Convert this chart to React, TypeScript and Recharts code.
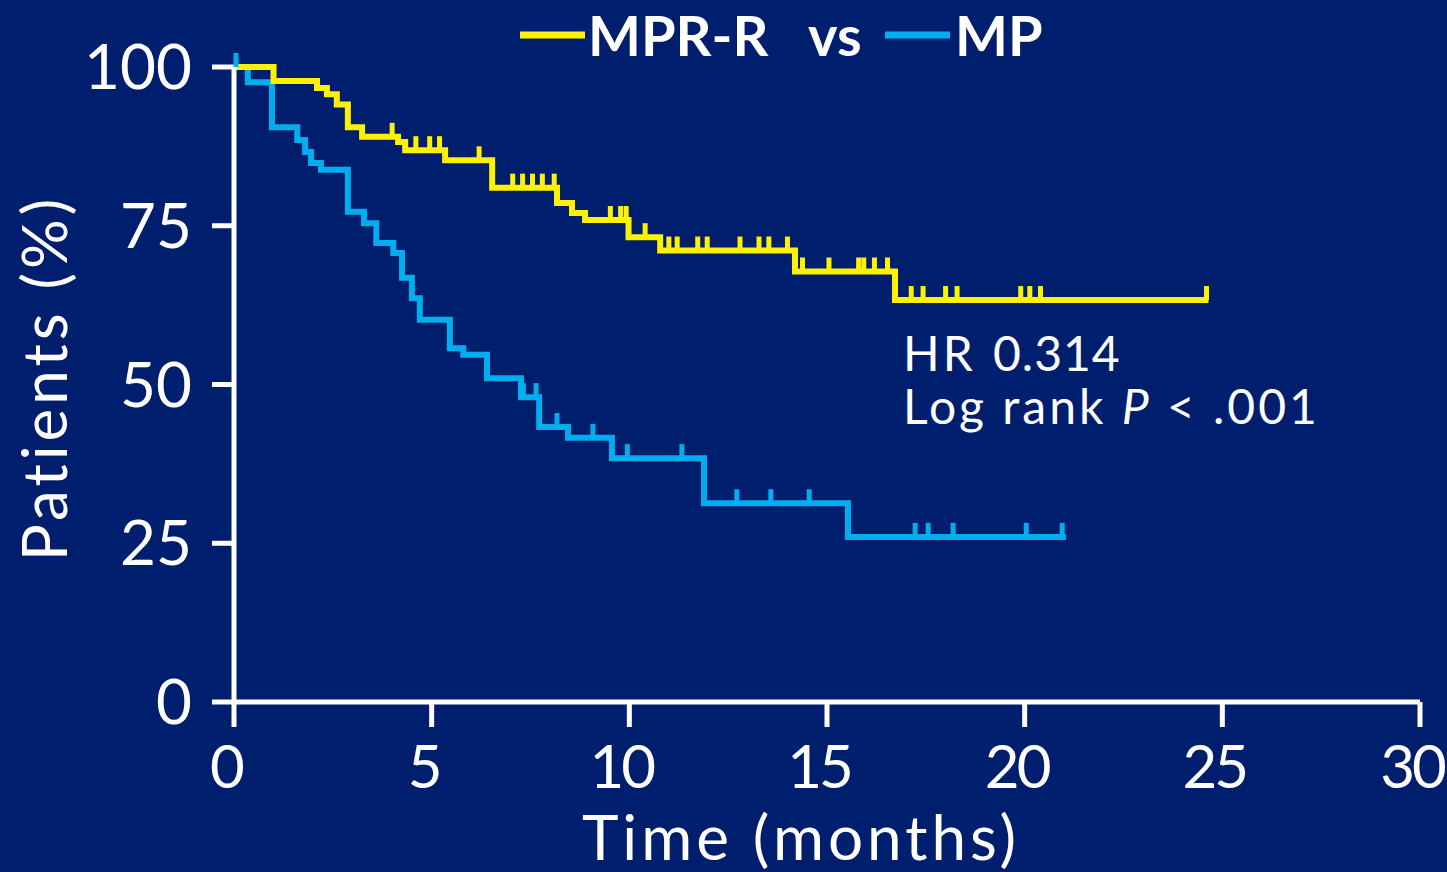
import { ComposedChart, Line, Scatter, XAxis, YAxis } from 'recharts';

// Kaplan-Meier step data (time in months, survival in %)
const mprrTime = [0, 1.0, 2.1, 2.35, 2.6, 2.88, 3.24, 4.15, 4.33, 5.34, 6.53, 8.17, 8.55, 8.88, 9.98, 10.78, 14.19, 16.72, 24.65];
const mprrSurv = [100, 97.8, 96.7, 95.7, 94.1, 90.5, 89.0, 88.2, 86.9, 85.3, 81.0, 78.6, 77.0, 75.9, 73.2, 71.1, 67.8, 63.3, 63.3];

const mpTime = [0, 0.35, 0.96, 1.6, 1.8, 1.95, 2.2, 2.88, 3.29, 3.6, 4.03, 4.25, 4.5, 4.7, 5.46, 5.8, 6.4, 7.26, 7.72, 8.45, 9.56, 11.89, 15.53, 21.05];
const mpSurv = [100, 97.6, 90.5, 88.5, 86.6, 84.9, 83.8, 77.2, 75.4, 72.3, 70.7, 66.8, 63.6, 60.2, 55.7, 54.7, 51.0, 48.0, 43.3, 41.6, 38.4, 31.3, 26.0, 26.0];

// censored observations
const mprrCensorTime = [4.0, 4.6, 4.95, 5.2, 6.2, 7.05, 7.3, 7.55, 7.8, 8.1, 9.52, 9.78, 9.92, 10.4, 11.0, 11.21, 11.73, 11.97, 12.8, 13.28, 13.53, 14.0, 14.38, 15.05, 15.8, 15.93, 16.2, 16.53, 17.13, 17.43, 18.0, 18.29, 19.9, 20.13, 20.4, 24.6];
const mprrCensorSurv = [89.0, 86.9, 86.9, 86.9, 85.3, 81.0, 81.0, 81.0, 81.0, 81.0, 75.9, 75.9, 75.9, 73.2, 71.1, 71.1, 71.1, 71.1, 71.1, 71.1, 71.1, 71.1, 67.8, 67.8, 67.8, 67.8, 67.8, 67.8, 63.3, 63.3, 63.3, 63.3, 63.3, 63.3, 63.3, 63.3];

const mpCensorTime = [0.05, 7.32, 7.64, 8.17, 9.08, 9.95, 11.33, 12.72, 13.58, 14.55, 17.23, 17.56, 18.19, 20.04, 20.95];
const mpCensorSurv = [100, 48.0, 48.0, 43.3, 41.6, 38.4, 38.4, 31.3, 31.3, 31.3, 26.0, 26.0, 26.0, 26.0, 26.0];

const xTicks = [0, 5, 10, 15, 20, 25, 30];
const yTicks = [0, 25, 50, 75, 100];

const BG = '#001E6E';
const YELLOW = '#FFF200';
const BLUE = '#00AEEF';
const FONT = 'Lato, "Open Sans", sans-serif';

const toPoints = (t: number[], s: number[]) => t.map((v, i) => ({ t: v, s: s[i] }));

const mprrData = toPoints(mprrTime, mprrSurv);
const mpData = toPoints(mpTime, mpSurv);
const mprrCensors = toPoints(mprrCensorTime, mprrCensorSurv);
const mpCensors = toPoints(mpCensorTime, mpCensorSurv);

const censorMark = (color: string) => (props: any) => {
  const { cx, cy } = props;
  return <line x1={cx} x2={cx} y1={cy} y2={cy - 14} stroke={color} strokeWidth={5} />;
};

const XTitle = (props: any) => {
  const { viewBox } = props;
  return (
    <text x={viewBox.x + viewBox.width / 2 - 26} y={860} fill="#fff" fontSize={62} fontFamily={FONT}
      textAnchor="middle" letterSpacing={4}>
      Time (months)
    </text>
  );
};

const YTitle = () => (
  <text x={0} y={0} transform="translate(67 378) rotate(-90)" fill="#fff" fontSize={62}
    fontFamily={FONT} textAnchor="middle" letterSpacing={4}>
    Patients (%)
  </text>
);

const axisStyle = { stroke: '#fff', strokeWidth: 5 };

export default function App() {
  return (
    <div style={{ position: 'fixed', left: 0, top: 0, width: 1447, height: 872, background: BG }}>
      <ComposedChart width={1447} height={872} margin={{ top: 67, right: 27, bottom: 0, left: 0 }}>
        <XAxis type="number" dataKey="t" domain={[0, 30]} ticks={xTicks} interval={0} height={170}
          axisLine={axisStyle} tickLine={axisStyle} tickSize={25} tickMargin={18}
          tick={{ fill: '#fff', fontSize: 60, fontFamily: FONT, letterSpacing: -3, dx: -8 }}
          label={{ content: XTitle }} />
        <YAxis type="number" dataKey="s" domain={[0, 100]} ticks={yTicks} interval={0} width={234}
          axisLine={axisStyle} tickLine={axisStyle} tickSize={22} tickMargin={20}
          tick={{ fill: '#fff', fontSize: 62, fontFamily: FONT }} label={{ content: YTitle }} />
        <Line data={mpData} dataKey="s" type="stepAfter" stroke={BLUE} strokeWidth={6}
          dot={false} isAnimationActive={false} />
        <Line data={mprrData} dataKey="s" type="stepAfter" stroke={YELLOW} strokeWidth={6}
          dot={false} isAnimationActive={false} />
        <Scatter data={mpCensors} dataKey="s" shape={censorMark(BLUE)} isAnimationActive={false} />
        <Scatter data={mprrCensors} dataKey="s" shape={censorMark(YELLOW)} isAnimationActive={false} />
      </ComposedChart>
      <svg width={1447} height={872} style={{ position: 'absolute', left: 0, top: 0, pointerEvents: 'none' }}>
        {/* legend */}
        <line x1={520} x2={585} y1={35} y2={35} stroke={YELLOW} strokeWidth={7} />
        <text x={588} y={56} fill="#fff" fontSize={56} fontWeight="bold" fontFamily={FONT}>MPR-R</text>
        <text x={808} y={56} fill="#fff" fontSize={56} fontWeight="bold" fontFamily={FONT}>vs</text>
        <line x1={885} x2={950} y1={35} y2={35} stroke={BLUE} strokeWidth={7} />
        <text x={955} y={56} fill="#fff" fontSize={56} fontWeight="bold" fontFamily={FONT}>MP</text>
        {/* statistics */}
        <text x={903} y={371} fill="#fff" fontSize={48} fontFamily={FONT} letterSpacing={3}>
          HR<tspan x={993} letterSpacing={1}>0.314</tspan>
        </text>
        <text x={903} y={424} fill="#fff" fontSize={48} fontFamily={FONT} letterSpacing={3}
          style={{ whiteSpace: 'pre' }}>
          {'Log rank '}<tspan fontStyle="italic">P</tspan>{' < .001'}
        </text>
      </svg>
    </div>
  );
}
